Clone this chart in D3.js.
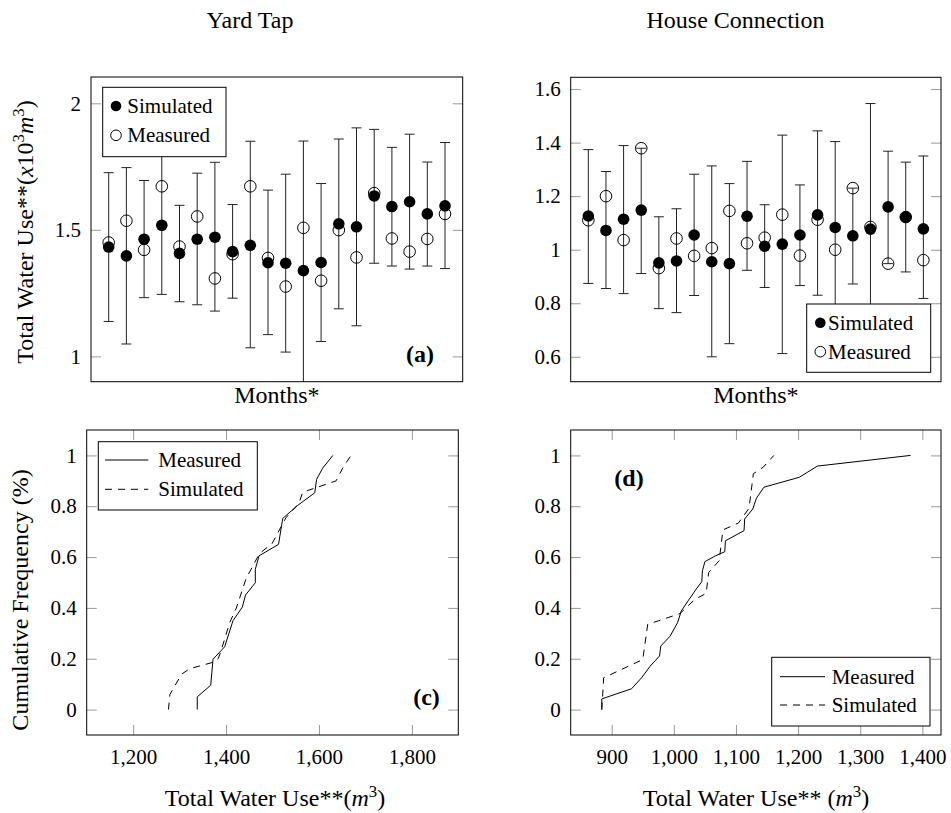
<!DOCTYPE html>
<html>
<head>
<meta charset="utf-8">
<script src="https://cdn.jsdelivr.net/npm/d3@7"></script>
<style>
body { margin: 0; background: #fff; }
svg { font-family: "Liberation Serif", "Times New Roman", serif; }
</style>
</head>
<body>
<svg id="chart" width="951" height="813"></svg>
<script>
// Data: monthly totals (x10^3 m3), panel (a) yard tap and (b) house connection
const months = [1, 2, 3, 4, 5, 6, 7, 8, 9, 10, 11, 12, 13, 14, 15, 16, 17, 18, 19, 20]

const yardSimulated = [1.432, 1.397, 1.463, 1.518, 1.407, 1.463, 1.471, 1.414, 1.439, 1.370, 1.368, 1.339, 1.371, 1.524, 1.512, 1.634, 1.592, 1.611, 1.563, 1.595]
const yardMeasured = [1.450, 1.536, 1.421, 1.672, 1.434, 1.553, 1.308, 1.404, 1.672, 1.389, 1.276, 1.508, 1.299, 1.499, 1.391, 1.645, 1.466, 1.414, 1.464, 1.563]
const yardLow = [1.138, 1.049, 1.232, 1.245, 1.216, 1.204, 1.179, 1.230, 1.034, 1.086, 1.017, 0.850, 1.059, 1.188, 1.121, 1.368, 1.357, 1.345, 1.357, 1.347]
const yardHigh = [1.726, 1.746, 1.695, 1.820, 1.597, 1.724, 1.767, 1.600, 1.850, 1.657, 1.720, 1.851, 1.683, 1.859, 1.903, 1.897, 1.826, 1.878, 1.768, 1.845]

const houseSimulated = [1.126, 1.072, 1.114, 1.148, 0.951, 0.958, 1.055, 0.955, 0.948, 1.125, 1.013, 1.021, 1.055, 1.130, 1.083, 1.052, 1.077, 1.160, 1.122, 1.078]
const houseMeasured = [1.110, 1.200, 1.036, 1.379, 0.931, 1.042, 0.977, 1.006, 1.145, 1.024, 1.045, 1.131, 0.978, 1.112, 1.000, 1.230, 1.085, 0.948, 1.122, 0.961]
const houseLow = [0.874, 0.855, 0.836, 0.911, 0.780, 0.765, 0.829, 0.600, 0.649, 0.923, 0.859, 0.612, 0.866, 0.830, 0.720, 0.872, 0.600, 0.948, 0.917, 0.818]
const houseHigh = [1.374, 1.292, 1.389, 1.379, 1.123, 1.153, 1.282, 1.313, 1.247, 1.330, 1.168, 1.428, 1.242, 1.444, 1.404, 1.230, 1.546, 1.368, 1.327, 1.350]

// Cumulative frequency curves [total water use m3, frequency]
const yardCdfMeasured = [[1338, 0], [1338, 0.05], [1367, 0.096], [1372, 0.198], [1397, 0.247], [1415, 0.35], [1435, 0.403], [1442, 0.451], [1463, 0.499], [1463, 0.552], [1471, 0.605], [1513, 0.65], [1522, 0.752], [1554, 0.803], [1591, 0.853], [1595, 0.906], [1608, 0.95], [1630, 1]]
const yardCdfSimulated = [[1276, 0], [1279, 0.059], [1304, 0.139], [1322, 0.161], [1370, 0.185], [1383, 0.2], [1388, 0.224], [1408, 0.343], [1422, 0.399], [1443, 0.515], [1472, 0.614], [1499, 0.653], [1529, 0.755], [1557, 0.812], [1565, 0.855], [1637, 0.9], [1651, 0.95], [1669, 1]]
const houseCdfMeasured = [[884, 0], [884, 0.042], [932, 0.082], [948, 0.125], [962, 0.171], [977, 0.211], [979, 0.25], [994, 0.289], [1006, 0.342], [1012, 0.388], [1023, 0.428], [1036, 0.474], [1045, 0.503], [1046, 0.546], [1050, 0.582], [1067, 0.605], [1082, 0.621], [1083, 0.664], [1113, 0.704], [1114, 0.75], [1127, 0.789], [1133, 0.832], [1145, 0.875], [1202, 0.914], [1231, 0.958], [1381, 1]]
const houseCdfSimulated = [[884, 0], [886, 0.079], [887, 0.125], [950, 0.197], [958, 0.336], [975, 0.349], [1010, 0.378], [1034, 0.434], [1052, 0.457], [1056, 0.539], [1073, 0.586], [1079, 0.707], [1104, 0.734], [1121, 0.792], [1128, 0.928], [1144, 0.954], [1161, 1]]

// Tick values
const yardTicks = [1, 1.5, 2]
const houseTicks = [0.6, 0.8, 1, 1.2, 1.4, 1.6]
const freqTicks = [0, 0.2, 0.4, 0.6, 0.8, 1]
const yardUseTicks = [1200, 1400, 1600, 1800]
const houseUseTicks = [900, 1000, 1100, 1200, 1300, 1400]

// Presentation
const svg = d3.select('#chart')
const tickFont = 21
const labelFont = 24
const tickLen = 10
const tickColor = '#999'

const boxes = {
    a: { left: 91, right: 462.7, top: 77, bottom: 381.7 },
    b: { left: 570.7, right: 941, top: 77.3, bottom: 381.7 },
    c: { left: 86.7, right: 458.3, top: 430, bottom: 735 },
    d: { left: 570.7, right: 941, top: 430, bottom: 735 }
}

const fmtY = d3.format('~g')
const fmtX = d3.format(',')

// text with italic / superscript parts
const richText = (sel, parts) => {
    parts.forEach(p => {
        const t = sel.append('tspan').text(p.t)
        if (p.italic) t.style('font-style', 'italic')
        if (p.sup) t.attr('font-size', '0.7em').attr('dy', '-0.55em')
        if (p.down) t.attr('dy', p.down)
    })
    return sel
}

const frame = (id, box, x, y, yTicks, xTicks) => {
    const g = svg.append('g').attr('class', `panel-${id}`)

    const yAxis = d3.axisLeft(y).tickValues(yTicks).tickFormat(fmtY).tickSize(-tickLen).tickPadding(10)
    const yAxisRight = d3.axisRight(y).tickValues(yTicks).tickFormat('').tickSize(-tickLen)

    g.append('g').attr('transform', `translate(${box.left},0)`).call(yAxis)
    g.append('g').attr('transform', `translate(${box.right},0)`).call(yAxisRight)

    if (xTicks) {
        const xAxis = d3.axisBottom(x).tickValues(xTicks).tickFormat(fmtX).tickSize(-tickLen).tickPadding(14)
        const xAxisTop = d3.axisTop(x).tickValues(xTicks).tickFormat('').tickSize(-tickLen)
        g.append('g').attr('transform', `translate(0,${box.bottom})`).call(xAxis)
        g.append('g').attr('transform', `translate(0,${box.top})`).call(xAxisTop)
    }

    g.selectAll('.domain').remove()
    g.selectAll('.tick line').attr('stroke', tickColor)
    g.selectAll('.tick text')
        .attr('fill', '#000')
        .attr('font-size', tickFont)
        .attr('font-family', '"Liberation Serif", serif')

    g.append('clipPath').attr('id', `clip-${id}`)
        .append('rect')
        .attr('x', box.left).attr('y', box.top)
        .attr('width', box.right - box.left).attr('height', box.bottom - box.top)

    const plot = g.append('g').attr('clip-path', `url(#clip-${id})`)

    g.append('rect')
        .attr('x', box.left).attr('y', box.top)
        .attr('width', box.right - box.left).attr('height', box.bottom - box.top)
        .attr('fill', 'none').attr('stroke', '#000').attr('stroke-width', 1)

    return { g, plot }
}

const monthPanel = (id, box, domain, ticks, sim, meas, low, high) => {
    const x = d3.scaleLinear().domain([0, 21]).range([box.left, box.right])
    const y = d3.scaleLinear().domain(domain).range([box.bottom, box.top])
    const { g, plot } = frame(id, box, x, y, ticks, null)

    const bars = plot.selectAll('g.bar').data(months).join('g').attr('class', 'bar')
    bars.append('line')
        .attr('x1', d => x(d)).attr('x2', d => x(d))
        .attr('y1', (d, i) => y(low[i])).attr('y2', (d, i) => y(high[i]))
    bars.append('line')
        .attr('x1', d => x(d) - 5).attr('x2', d => x(d) + 5)
        .attr('y1', (d, i) => y(low[i])).attr('y2', (d, i) => y(low[i]))
    bars.append('line')
        .attr('x1', d => x(d) - 5).attr('x2', d => x(d) + 5)
        .attr('y1', (d, i) => y(high[i])).attr('y2', (d, i) => y(high[i]))
    bars.selectAll('line').attr('stroke', '#222').attr('stroke-width', 1)

    plot.selectAll('circle.sim').data(months).join('circle')
        .attr('class', 'sim')
        .attr('cx', d => x(d)).attr('cy', (d, i) => y(sim[i]))
        .attr('r', 5.8).attr('fill', '#000')

    plot.selectAll('circle.meas').data(months).join('circle')
        .attr('class', 'meas')
        .attr('cx', d => x(d)).attr('cy', (d, i) => y(meas[i]))
        .attr('r', 5.8).attr('fill', 'none').attr('stroke', '#000').attr('stroke-width', 1)

    return g
}

const cdfPanel = (id, box, xDomain, xTicks, measured, simulated) => {
    const x = d3.scaleLinear().domain(xDomain).range([box.left, box.right])
    const y = d3.scaleLinear().domain([-0.1, 1.1]).range([box.bottom, box.top])
    const { g, plot } = frame(id, box, x, y, freqTicks, xTicks)
    const line = d3.line().x(d => x(d[0])).y(d => y(d[1]))

    plot.append('path').datum(measured)
        .attr('d', line).attr('fill', 'none').attr('stroke', '#000').attr('stroke-width', 1)
    plot.append('path').datum(simulated)
        .attr('d', line).attr('fill', 'none').attr('stroke', '#000').attr('stroke-width', 1)
        .attr('stroke-dasharray', '7,6')
    return g
}

const markerLegend = (g, lx, ly, w, h, cx, rows, tx) => {
    g.append('rect').attr('x', lx).attr('y', ly).attr('width', w).attr('height', h)
        .attr('fill', '#fff').attr('stroke', '#000').attr('stroke-width', 1)
    g.append('circle').attr('cx', cx).attr('cy', rows[0]).attr('r', 5.3).attr('fill', '#000')
    g.append('circle').attr('cx', cx).attr('cy', rows[1]).attr('r', 5.3)
        .attr('fill', 'none').attr('stroke', '#000').attr('stroke-width', 1)
    g.append('text').attr('x', tx).attr('y', rows[0] + 7).attr('font-size', tickFont).text('Simulated')
    g.append('text').attr('x', tx).attr('y', rows[1] + 7).attr('font-size', tickFont).text('Measured')
}

const lineLegend = (g, lx, ly, w, h, x1, x2, rows, tx) => {
    g.append('rect').attr('x', lx).attr('y', ly).attr('width', w).attr('height', h)
        .attr('fill', '#fff').attr('stroke', '#000').attr('stroke-width', 1)
    g.append('line').attr('x1', x1).attr('x2', x2).attr('y1', rows[0]).attr('y2', rows[0])
        .attr('stroke', '#000').attr('stroke-width', 1)
    g.append('line').attr('x1', x1).attr('x2', x2).attr('y1', rows[1]).attr('y2', rows[1])
        .attr('stroke', '#000').attr('stroke-width', 1).attr('stroke-dasharray', '7,6')
    g.append('text').attr('x', tx).attr('y', rows[0] + 7).attr('font-size', tickFont).text('Measured')
    g.append('text').attr('x', tx).attr('y', rows[1] + 7).attr('font-size', tickFont).text('Simulated')
}

const tag = (g, x, y, label) => g.append('text')
    .attr('x', x).attr('y', y).attr('text-anchor', 'middle')
    .attr('font-size', 24).attr('font-weight', 'bold').text(label)

// Panels
const ga = monthPanel('a', boxes.a, [0.9, 2.104], yardTicks, yardSimulated, yardMeasured, yardLow, yardHigh)
markerLegend(ga, 102.7, 87.3, 123.3, 69.4, 116, [106, 135.3], 127.3)
tag(ga, 420, 362, '(a)')

const gb = monthPanel('b', boxes.b, [0.507, 1.644], houseTicks, houseSimulated, houseMeasured, houseLow, houseHigh)
markerLegend(gb, 806.7, 304, 124, 68.3, 820.3, [322.7, 351.7], 828)

const gc = cdfPanel('c', boxes.c, [1100, 1900], yardUseTicks, yardCdfMeasured, yardCdfSimulated)
lineLegend(gc, 98.3, 441.7, 159, 68.3, 105, 148.3, [460, 489.3], 158.3)
tag(gc, 426.5, 705, '(c)')

const gd = cdfPanel('d', boxes.d, [834, 1430], houseUseTicks, houseCdfMeasured, houseCdfSimulated)
lineLegend(gd, 771.7, 657.3, 158.3, 68.7, 780, 825, [676.7, 705], 831.7)
tag(gd, 629, 486, '(d)')

// Titles and axis labels
const label = (x, y, rotate) => svg.append('text')
    .attr('transform', `translate(${x},${y})${rotate ? ' rotate(-90)' : ''}`)
    .attr('text-anchor', 'middle').attr('font-size', labelFont)

label(250, 28).text('Yard Tap')
label(735.5, 28).text('House Connection')
label((boxes.a.left + boxes.a.right) / 2, 403).text('Months*')
label((boxes.b.left + boxes.b.right) / 2, 403).text('Months*')
richText(label(275, 806), [{ t: 'Total Water Use**(' }, { t: 'm', italic: true }, { t: '3', sup: true }, { t: ')', down: '0.39em' }])
richText(label(756, 806), [{ t: 'Total Water Use** (' }, { t: 'm', italic: true }, { t: '3', sup: true }, { t: ')', down: '0.39em' }])
richText(label(33, 232, true), [{ t: 'Total Water Use**(' }, { t: 'x', italic: true }, { t: '10' }, { t: '3', sup: true },
    { t: 'm', italic: true, down: '0.39em' }, { t: '3', sup: true }, { t: ')', down: '0.39em' }])
label(28, 600, true).text('Cumulative Frequency (%)')
</script>
</body>
</html>
